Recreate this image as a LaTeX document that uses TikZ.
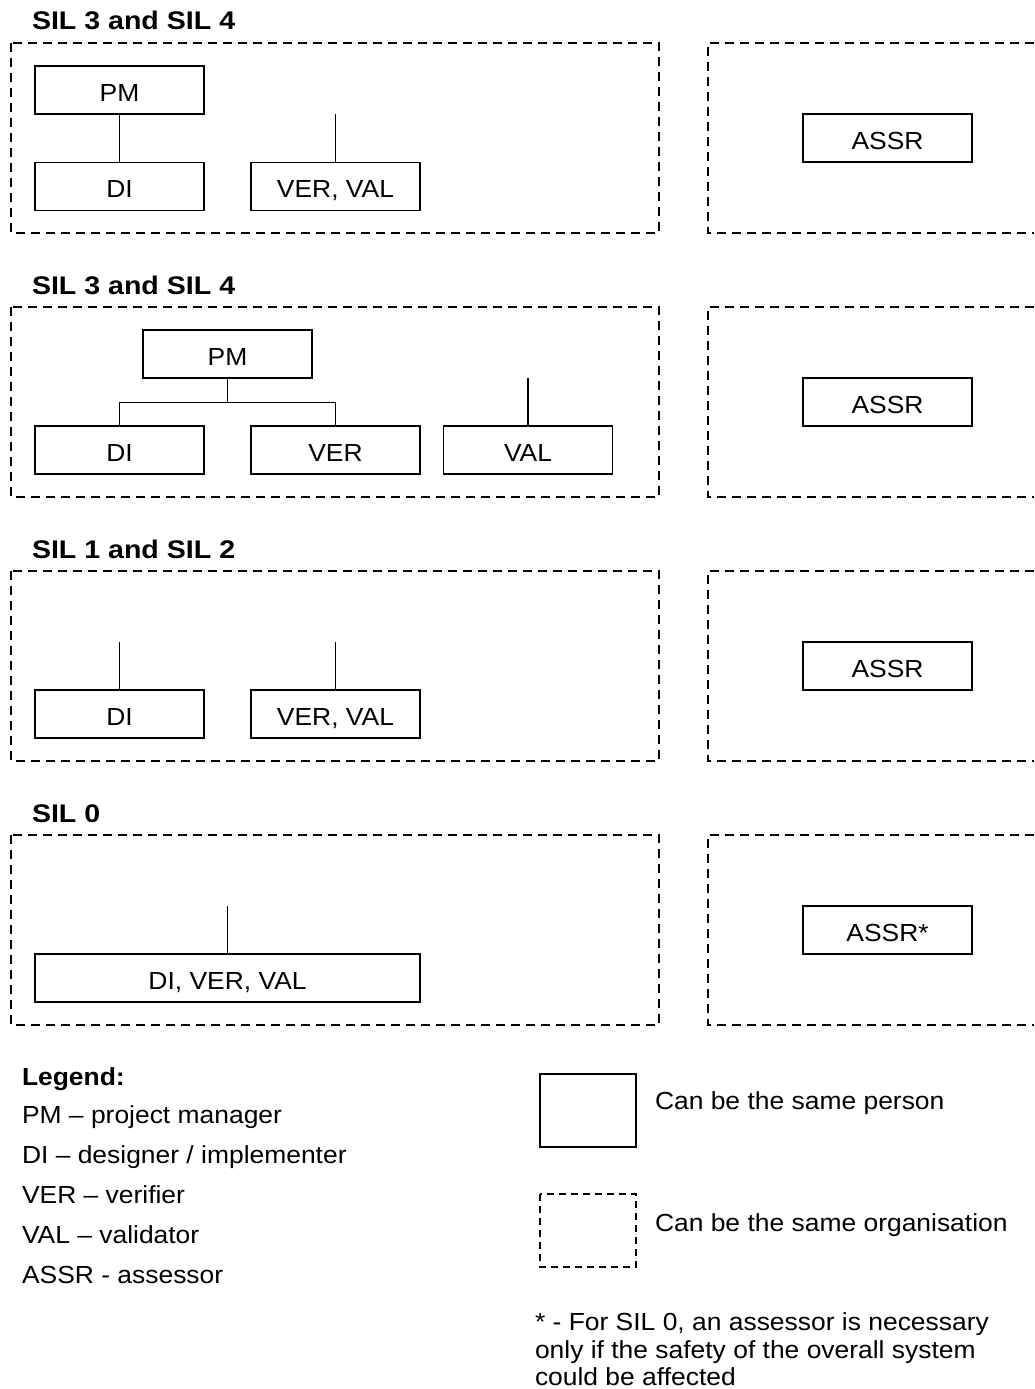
\documentclass[tikz,border=0pt]{standalone}
\usepackage{fontspec}
\setmainfont[FakeStretch=1.07]{Liberation Sans}
\newfontfamily\headfont[FakeStretch=1.12]{Liberation Sans}
\begin{document}
\begin{tikzpicture}[x=1pt,y=-1pt,
  every node/.style={inner sep=0pt, outer sep=0pt},
  rolebox/.style={draw, line width=1.9pt, minimum width=169pt, minimum height=48pt,
    text height=22pt, text depth=0pt, font=\fontsize{24.7}{29}\selectfont},
  widebox/.style={rolebox, minimum width=385pt},
  orgframe/.style={line width=1.7pt, dash pattern=on 9pt off 6pt},
  link/.style={line width=1.9pt},
  silhead/.style={anchor=base west, font=\headfont\bfseries\fontsize{25.5}{30}\selectfont},
  legtext/.style={anchor=base west, font=\fontsize{24.7}{29}\selectfont},
  leghead/.style={legtext, font=\bfseries\fontsize{24.7}{29}\selectfont}]

\useasboundingbox (0,0) rectangle (1034,1389);

% ---------- SIL 3 and SIL 4 (first arrangement) ----------
\node[silhead] (t1) at (32,30) {SIL 3 and SIL 4};
\draw[orgframe] (11,43) rectangle (659,233);
\draw[orgframe] (1034,43) -- (708,43) -- (708,233) -- (1034,233);
\node[rolebox] (pm1) at (119.5,90) {PM};
\node[rolebox] (di1) at (119.5,186.5) {DI};
\node[rolebox] (vv1) at (335.5,186.5) {VER, VAL};
\node[rolebox] (as1) at (887.5,138) {ASSR};
\coordinate (vv1top) at (335.5,114);
\draw[link] (pm1) -- (di1);
\draw[link] (vv1) -- (vv1top);

% ---------- SIL 3 and SIL 4 (second arrangement) ----------
\node[silhead] (t2) at (32,294) {SIL 3 and SIL 4};
\draw[orgframe] (11,307) rectangle (659,497);
\draw[orgframe] (1034,307) -- (708,307) -- (708,497) -- (1034,497);
\node[rolebox] (pm2) at (227.5,354) {PM};
\node[rolebox] (di2) at (119.5,450) {DI};
\node[rolebox] (ver2) at (335.5,450) {VER};
\node[rolebox] (val2) at (528,450) {VAL};
\node[rolebox] (as2) at (887.5,402) {ASSR};
\coordinate (j2) at (227.5,402.5);
\coordinate (val2top) at (528,378);
\draw[link] (pm2) -- (j2);
\draw[link] (di2.north) -- (di2.north |- j2) -- (ver2.north |- j2) -- (ver2.north);
\draw[link] (val2) -- (val2top);

% ---------- SIL 1 and SIL 2 ----------
\node[silhead] (t3) at (32,558) {SIL 1 and SIL 2};
\draw[orgframe] (11,571) rectangle (659,761);
\draw[orgframe] (1034,571) -- (708,571) -- (708,761) -- (1034,761);
\node[rolebox] (di3) at (119.5,714) {DI};
\node[rolebox] (vv3) at (335.5,714) {VER, VAL};
\node[rolebox] (as3) at (887.5,666) {ASSR};
\coordinate (di3top) at (119.5,642);
\coordinate (vv3top) at (335.5,642);
\draw[link] (di3) -- (di3top);
\draw[link] (vv3) -- (vv3top);

% ---------- SIL 0 ----------
\node[silhead] (t4) at (32,822) {SIL 0};
\draw[orgframe] (11,835) rectangle (659,1025);
\draw[orgframe] (1034,835) -- (708,835) -- (708,1025) -- (1034,1025);
\node[widebox] (dvv4) at (227.5,978) {DI, VER, VAL};
\node[rolebox] (as4) at (887.5,930) {ASSR*};
\coordinate (dvv4top) at (227.5,906);
\draw[link] (dvv4) -- (dvv4top);

% ---------- Legend ----------
\node[leghead] (lg) at (22,1085) {Legend:};
\node[legtext] (lpm) at (22,1123) {PM -- project manager};
\node[legtext] (ldi) at (22,1163) {DI -- designer / implementer};
\node[legtext] (lver) at (22,1203) {VER -- verifier};
\node[legtext] (lval) at (22,1243) {VAL -- validator};
\node[legtext] (lassr) at (22,1283) {ASSR - assessor};

\draw[line width=1.9pt] (540,1074) rectangle (636,1147);
\node[legtext] (lperson) at (655,1109) {Can be the same person};
\draw[line width=1.5pt, dash pattern=on 7pt off 5pt] (540,1194) rectangle (636,1267);
\node[legtext] (lorg) at (655,1231) {Can be the same organisation};

\node[legtext] (fn1) at (535,1330) {* - For SIL 0, an assessor is necessary};
\node[legtext] (fn2) at (535,1358) {only if the safety of the overall system};
\node[legtext] (fn3) at (535,1385) {could be affected};
\end{tikzpicture}
\end{document}
